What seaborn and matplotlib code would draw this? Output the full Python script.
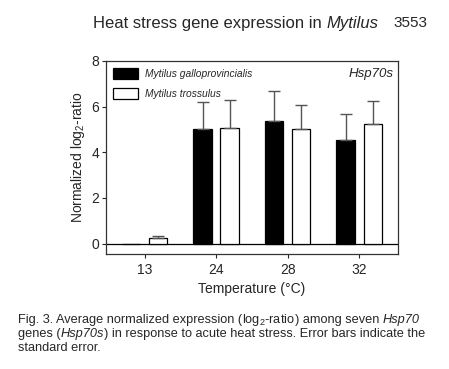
import pandas as pd
import numpy as np
import matplotlib
matplotlib.use("Agg")
import matplotlib.pyplot as plt
import seaborn as sns
from matplotlib.patches import Patch

# Data
temps = ["13", "24", "28", "32"]
species = ["Mytilus galloprovincialis", "Mytilus trossulus"]
gallo_mean = [-0.03, 5.02, 5.38, 4.55]
gallo_se = [0.0, 1.18, 1.28, 1.12]
tross_mean = [0.25, 5.08, 5.03, 5.22]
tross_se = [0.10, 1.22, 1.05, 1.04]

df = pd.DataFrame({
    "Temperature": temps * 2,
    "Species": [species[0]] * 4 + [species[1]] * 4,
    "Value": gallo_mean + tross_mean,
    "SE": gallo_se + tross_se,
})

sns.set_style("ticks")
plt.rcParams["font.family"] = ["Liberation Sans", "DejaVu Sans"]
plt.rcParams["mathtext.fontset"] = "custom"
plt.rcParams["mathtext.rm"] = "Liberation Sans"
plt.rcParams["mathtext.it"] = "Liberation Sans:italic"

fig = plt.figure(figsize=(4.49, 3.69), dpi=100)
ax = fig.add_axes([0.236, 0.312, 0.65, 0.523])

sns.barplot(data=df, x="Temperature", y="Value", hue="Species",
            palette={species[0]: "black", species[1]: "white"},
            edgecolor="black", linewidth=0.9, width=0.76, gap=0.32,
            errorbar=None, legend=False, ax=ax)

# one-sided error bars (SE) on top of each bar
for bar, (_, row) in zip(ax.patches, df.iterrows()):
    xc = bar.get_x() + bar.get_width() / 2
    if row["SE"] > 0:
        ax.errorbar(xc, row["Value"], yerr=[[0], [row["SE"]]], fmt="none",
                    ecolor="#555555", elinewidth=1.0, capsize=4, capthick=1.0,
                    zorder=1)

ax.axhline(0, color="black", lw=0.9, zorder=0)
ax.set_ylim(-0.45, 8)
ax.set_xlim(-0.54, 3.54)
ax.set_yticks([0, 2, 4, 6, 8])
ax.tick_params(axis="both", labelsize=10, length=3, width=0.8, direction="out")
ax.tick_params(axis="y", pad=2)
for s in ax.spines.values():
    s.set_linewidth(0.9)
    s.set_color("#333333")

ax.set_xlabel("Temperature (°C)", fontsize=10, labelpad=4)
ax.set_ylabel(r"Normalized log$_2$-ratio", fontsize=10, labelpad=3)

handles = [Patch(facecolor="black", edgecolor="black", lw=0.9),
           Patch(facecolor="white", edgecolor="black", lw=0.9)]
ax.legend(handles, species, loc="upper left", frameon=False,
          handlelength=2.4, handleheight=1.2, borderaxespad=0.3,
          handletextpad=0.7, labelspacing=0.9,
          prop={"style": "italic", "size": 7.4})

ax.text(0.985, 0.965, "Hsp70s", transform=ax.transAxes, ha="right", va="top",
        fontsize=9.5, style="italic")


def write_line(x, y, parts, size):
    # place text pieces one after another (mixed roman / italic)
    renderer = fig.canvas.get_renderer()
    for txt, style in parts:
        t = fig.text(x, y, txt, fontsize=size, style=style,
                     ha="left", va="center")
        bb = t.get_window_extent(renderer=renderer)
        x += bb.width / fig.bbox.width


# page header
write_line(0.207, 0.937, [("Heat stress gene expression in ", "normal"),
                          ("Mytilus", "italic")], 12)
fig.text(0.953, 0.937, "3553", fontsize=11, ha="right", va="center")

# caption
cap_size = 9.2
write_line(0.04, 0.133, [("Fig. 3. Average normalized expression (", "normal"),
                         (r"log$_2$-ratio", "normal"),
                         (") among seven ", "normal"),
                         ("Hsp70", "italic")], cap_size)
write_line(0.04, 0.095, [("genes (", "normal"), ("Hsp70s", "italic"),
                         (") in response to acute heat stress. Error bars indicate the",
                          "normal")], cap_size)
write_line(0.04, 0.057, [("standard error.", "normal")], cap_size)

fig.savefig("out.png", dpi=100)
